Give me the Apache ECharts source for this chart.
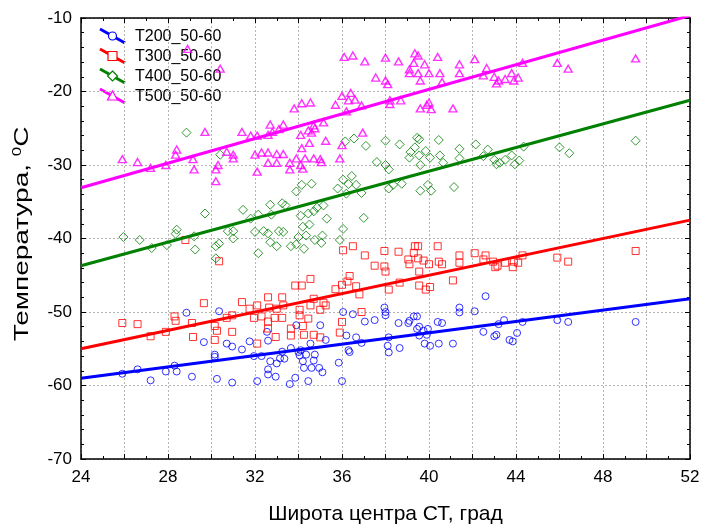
<!DOCTYPE html>
<html>
<head>
<meta charset="utf-8">
<script src="https://cdn.jsdelivr.net/npm/echarts@6/dist/echarts.min.js"></script>
<style>
  html, body { margin: 0; padding: 0; background: #ffffff; }
  #chart { width: 704px; height: 530px; }
</style>
</head>
<body>
<div id="chart"></div>
<script>
// Latitude of the cyclone centre (deg) vs. temperature (°C) at four levels
const seriesNames = ['T200_50-60', 'T300_50-60', 'T400_50-60', 'T500_50-60'];

const xTicks = [24, 28, 32, 36, 40, 44, 48, 52];
const yTicks = [-70, -60, -50, -40, -30, -20, -10];

const t200 = [
  [25.9,-58.4],[26.6,-57.8],[27.2,-59.3],[27.9,-58.1],[28.3,-57.3],[28.4,-58.1],[28.85,-50.1],[29.1,-58.8],
  [29.65,-54.1],[30.15,-55.8],[30.15,-56.1],[30.25,-59.1],[30.35,-49.9],[30.7,-54.3],[30.95,-59.6],[30.95,-54.7],
  [31.4,-55.1],[31.75,-54.0],[31.95,-56.0],[32.1,-59.4],[32.3,-56.0],[32.55,-52.7],[32.6,-53.9],[32.6,-57.8],
  [32.6,-58.5],[32.7,-56.7],[32.95,-58.8],[33.0,-57.0],[33.15,-56.3],[33.25,-55.4],[33.35,-56.35],[33.6,-59.8],
  [33.65,-54.9],[33.85,-58.95],[33.9,-51.8],[34.0,-55.45],[34.05,-55.9],[34.1,-55.2],[34.2,-56.7],[34.25,-57.6],
  [34.35,-55.8],[34.45,-59.4],[34.55,-54.3],[34.6,-57.6],[34.7,-56.6],[34.75,-55.8],[34.95,-57.6],[35.0,-51.8],
  [35.1,-58.2],[35.25,-53.8],[35.85,-56.9],[36.0,-59.4],[36.05,-50.0],[36.2,-53.2],[36.3,-55.2],[36.35,-55.45],
  [36.5,-50.3],[36.65,-53.45],[36.9,-54.2],[37.05,-51.3],[37.5,-51.1],[37.95,-49.4],[38.0,-50.0],[38.0,-50.45],
  [38.15,-53.45],[38.1,-54.6],[38.15,-55.5],[38.65,-54.9],[38.6,-51.5],[39.05,-51.5],[39.1,-51.2],[39.3,-50.6],
  [39.45,-50.6],[39.45,-52.3],[39.55,-52.0],[39.55,-53.2],[39.75,-52.55],[39.9,-53.1],[39.95,-52.3],[39.8,-54.3],
  [40.05,-54.6],[40.4,-51.35],[40.6,-51.5],[40.45,-54.3],[41.1,-54.3],[41.4,-49.4],[41.4,-50.05],[42.1,-49.9],
  [42.6,-47.85],[42.5,-52.7],[43.0,-53.3],[43.1,-53.1],[43.2,-51.65],[43.45,-51.1],[43.7,-53.8],[43.85,-54.0],
  [44.05,-52.85],[44.3,-51.35],[45.9,-51.1],[46.4,-51.35],[49.5,-51.35]
];

const t300 = [
  [25.9,-51.5],[26.6,-51.65],[27.2,-53.3],[27.9,-52.7],[28.3,-50.6],[28.35,-51.2],[28.8,-40.2],[30.35,-43.1],
  [29.1,-51.5],[29.15,-53.4],[29.65,-48.8],[30.15,-51.9],[30.15,-53.8],[30.25,-52.55],[30.7,-50.8],[30.95,-50.45],
  [30.95,-52.7],[31.4,-48.65],[31.75,-49.55],[31.95,-50.8],[32.1,-49.1],[32.1,-54.3],[32.3,-50.6],[32.6,-51.3],
  [32.6,-48.0],[32.65,-49.4],[32.6,-52.25],[32.9,-50.8],[32.95,-53.4],[33.0,-49.55],[33.25,-48.0],[33.25,-50.8],
  [33.3,-49.1],[33.65,-52.25],[33.65,-53.2],[33.85,-46.4],[34.15,-46.4],[34.05,-49.7],[34.05,-50.45],[34.2,-51.9],
  [34.25,-53.1],[34.45,-50.9],[34.55,-45.5],[34.55,-49.1],[34.7,-48.2],[34.7,-53.1],[35.0,-49.7],[35.0,-53.45],
  [35.15,-48.75],[35.25,-49.1],[35.7,-46.9],[35.9,-52.8],[36.0,-46.3],[36.0,-51.35],[36.05,-41.6],[36.35,-45.1],
  [36.25,-45.85],[36.5,-41.05],[36.65,-46.5],[36.8,-47.6],[36.9,-50.0],[37.05,-42.3],[37.5,-43.7],[37.95,-41.7],
  [37.95,-43.8],[38.0,-44.5],[38.15,-46.95],[38.6,-41.8],[38.65,-46.0],[39.05,-42.85],[39.1,-43.5],[39.3,-41.95],
  [39.35,-41.05],[39.5,-41.05],[39.5,-42.7],[39.55,-44.5],[39.55,-46.4],[39.75,-43.0],[39.85,-46.95],[40.0,-43.5],
  [40.05,-46.6],[40.4,-41.05],[40.45,-43.15],[40.6,-43.5],[41.1,-45.7],[41.4,-42.3],[41.4,-43.3],[42.1,-42.0],
  [42.5,-42.85],[42.6,-42.3],[42.95,-43.15],[43.05,-43.9],[43.15,-43.7],[43.5,-43.3],[43.85,-43.9],[43.9,-43.15],
  [44.1,-43.3],[44.3,-42.3],[45.9,-42.6],[46.4,-43.15],[49.5,-41.7]
];

const t400 = [
  [25.95,-39.8],[26.7,-40.2],[27.25,-41.3],[27.95,-40.9],[28.4,-38.8],[28.35,-39.35],[28.85,-25.6],[29.2,-39.7],
  [29.25,-41.5],[29.7,-36.6],[30.2,-41.05],[30.35,-40.7],[30.2,-42.7],[30.4,-28.6],[30.75,-39.0],[31.0,-39.0],
  [31.0,-40.0],[31.45,-36.1],[31.8,-37.3],[32.0,-39.1],[32.15,-42.0],[32.15,-36.75],[32.4,-39.0],[32.6,-39.3],
  [32.7,-40.5],[32.7,-35.4],[32.75,-36.75],[33.0,-41.05],[33.1,-39.0],[33.25,-35.2],[33.3,-39.1],[33.4,-35.5],
  [33.65,-41.05],[33.9,-33.6],[33.9,-40.8],[34.0,-39.8],[34.1,-36.9],[34.15,-32.7],[34.2,-38.4],[34.25,-41.4],
  [34.35,-39.6],[34.45,-36.6],[34.5,-38.1],[34.6,-32.55],[34.7,-36.3],[34.75,-40.2],[34.85,-35.8],[35.05,-40.6],
  [35.1,-39.6],[35.15,-35.5],[35.3,-37.3],[35.8,-33.2],[35.9,-40.2],[36.05,-38.7],[36.05,-32.0],[36.15,-26.8],
  [36.2,-33.9],[36.3,-32.6],[36.45,-31.5],[36.55,-26.4],[36.65,-32.7],[36.9,-33.8],[37.0,-37.2],[37.1,-27.4],
  [37.6,-29.6],[38.0,-26.7],[38.0,-30.0],[38.15,-30.6],[38.15,-33.2],[38.35,-32.7],[38.65,-27.2],[38.75,-32.55],
  [39.1,-29.0],[39.15,-28.25],[39.35,-27.6],[39.45,-26.3],[39.55,-26.5],[39.55,-28.7],[39.6,-30.0],[39.6,-33.5],
  [39.85,-28.1],[39.95,-32.7],[40.05,-29.0],[40.1,-33.5],[40.45,-26.6],[40.5,-28.7],[40.65,-29.7],[41.15,-33.0],
  [41.4,-27.8],[41.4,-29.1],[42.15,-27.2],[42.5,-28.8],[42.7,-27.9],[43.0,-29.3],[43.1,-29.9],[43.25,-29.7],
  [43.5,-29.3],[43.8,-28.7],[43.95,-29.9],[44.15,-29.4],[44.35,-27.5],[46.0,-27.6],[46.45,-28.4],[49.5,-26.7]
];

const t500 = [
  [25.9,-29.2],[26.6,-29.6],[27.2,-30.4],[27.9,-30.0],[28.4,-27.9],[28.35,-28.6],[29.15,-29.2],[29.2,-30.6],
  [29.7,-25.5],[28.9,-14.2],[30.4,-16.9],[30.2,-30.6],[30.2,-32.2],[30.3,-30.0],[30.7,-28.2],[31.0,-28.6],
  [31.0,-29.1],[31.4,-25.5],[31.8,-26.0],[32.1,-26.0],[32.0,-28.6],[32.1,-30.9],[32.3,-28.3],[32.6,-28.3],
  [32.6,-29.7],[32.7,-24.5],[32.6,-25.9],[32.8,-25.5],[33.0,-29.7],[33.0,-28.5],[33.1,-25.1],[33.3,-24.5],
  [33.3,-28.5],[33.6,-29.7],[33.6,-30.6],[33.8,-22.3],[34.15,-21.6],[34.55,-21.5],[34.1,-25.9],[33.9,-29.1],
  [34.1,-30.0],[34.2,-30.5],[34.3,-29.1],[34.15,-27.7],[34.5,-27.0],[34.45,-25.3],[34.7,-24.6],[34.6,-25.6],
  [34.75,-25.0],[34.7,-29.1],[35.0,-29.2],[35.05,-29.6],[35.15,-24.2],[35.25,-26.7],[35.7,-21.8],[36.0,-20.6],
  [36.1,-15.3],[36.5,-15.1],[36.4,-20.2],[36.2,-22.7],[36.3,-21.2],[36.6,-21.1],[36.9,-21.9],[37.05,-15.9],
  [36.95,-25.6],[36.0,-27.3],[35.9,-29.1],[37.55,-18.1],[38.0,-15.4],[38.6,-15.9],[39.35,-14.8],[39.5,-15.1],
  [39.3,-16.1],[39.8,-16.3],[40.4,-15.3],[39.1,-17.0],[39.1,-17.5],[39.5,-17.5],[40.0,-17.5],[39.6,-18.5],
  [40.5,-17.5],[40.6,-18.7],[38.0,-18.5],[38.1,-19.0],[38.2,-21.2],[38.2,-21.7],[38.7,-21.2],[39.6,-22.3],
  [39.9,-21.8],[40.0,-21.5],[40.1,-22.4],[41.1,-22.3],[41.4,-16.3],[41.4,-17.5],[42.1,-15.6],[42.65,-16.8],
  [42.5,-17.8],[43.0,-18.0],[43.1,-18.9],[43.2,-18.5],[43.5,-18.3],[43.8,-17.5],[43.9,-18.5],[44.1,-18.1],
  [44.3,-16.1],[45.9,-16.1],[46.4,-16.9],[49.5,-15.5]
];

// Linear fits: temperature at the two ends of the latitude range
const fitT200 = [[24, -59.0], [52, -48.2]];
const fitT300 = [[24, -55.0], [52, -37.5]];
const fitT400 = [[24, -43.7], [52, -21.2]];
const fitT500 = [[24, -33.1], [52, -9.66]];

const colors = ['#0000ff', '#ff0000', '#008000', '#ff00ff'];
const symbols = ['circle', 'rect', 'diamond', 'triangle'];
const symbolSizes = [7, 7, 9, [8, 7]];
const borderWidths = [1, 1, 1, 1.4];
const points = [t200, t300, t400, t500];
const fits = [fitT200, fitT300, fitT400, fitT500];

const chart = echarts.init(document.getElementById('chart'), null, { renderer: 'canvas' });

const FONT = 'Liberation Sans, Arial, sans-serif';
const gridStyle = { show: true, lineStyle: { color: '#b4b4b4', width: 1, type: [2, 2] } };
const frameLine = { show: true, lineStyle: { color: '#000000', width: 1.5 } };

function makeX(position, labels) {
  return {
    type: 'value', position: position, min: xTicks[0], max: xTicks[xTicks.length - 1], interval: 2,
    axisLine: frameLine,
    axisTick: { show: true, inside: true, length: 5, lineStyle: { color: '#000', width: 1 } },
    minorTick: { show: true, splitNumber: 2, length: 3, lineStyle: { color: '#000', width: 1 } },
    splitLine: position === 'bottom' ? gridStyle : { show: false },
    axisLabel: labels ? {
      show: true, color: '#000', fontFamily: FONT, fontSize: 17, margin: 10,
      formatter: v => (xTicks.indexOf(v) >= 0 ? String(v) : '')
    } : { show: false },
    name: labels ? 'Широта центра СТ, град' : '',
    nameLocation: 'middle', nameGap: 45,
    nameTextStyle: { color: '#000', fontFamily: FONT, fontSize: 21 }
  };
}

function makeY(position, labels) {
  return {
    type: 'value', position: position, min: yTicks[0], max: yTicks[yTicks.length - 1], interval: 10,
    axisLine: frameLine,
    axisTick: { show: true, inside: true, length: 5, lineStyle: { color: '#000', width: 1 } },
    minorTick: { show: true, splitNumber: 5, length: 3, lineStyle: { color: '#000', width: 1 } },
    splitLine: position === 'left' ? gridStyle : { show: false },
    axisLabel: labels ? {
      show: true, color: '#000', fontFamily: FONT, fontSize: 17, margin: 9,
      formatter: v => (yTicks.indexOf(v) >= 0 ? String(v) : '')
    } : { show: false }
  };
}

const series = [];
points.forEach((pts, i) => {
  series.push({
    name: seriesNames[i], type: 'scatter', data: pts,
    symbol: symbols[i], symbolSize: symbolSizes[i],
    itemStyle: { color: 'rgba(0,0,0,0)', borderColor: colors[i], borderWidth: borderWidths[i] },
    emphasis: { disabled: true }, z: 2
  });
  series.push({
    name: seriesNames[i] + ' fit', type: 'line', data: fits[i],
    showSymbol: false, clip: true,
    lineStyle: { color: colors[i], width: 3 },
    emphasis: { disabled: true }, z: 3
  });
});

// Key in the upper-left corner: slanted line sample with the series marker
const graphics = [];
seriesNames.forEach((name, i) => {
  const y0 = 36 + i * 20;
  const group = { type: 'group', children: [] };
  group.children.push({
    type: 'line', shape: { x1: 100, y1: y0 - 7, x2: 125, y2: y0 + 7 },
    style: { stroke: colors[i], lineWidth: 3 }
  });
  const cx = 112.5, cy = y0;
  let marker;
  if (i === 0) marker = { type: 'circle', shape: { cx: cx, cy: cy, r: 4 } };
  else if (i === 1) marker = { type: 'rect', shape: { x: cx - 4.5, y: cy - 4.5, width: 9, height: 9 } };
  else if (i === 2) marker = { type: 'polygon', shape: { points: [[cx, cy - 5], [cx + 5, cy], [cx, cy + 5], [cx - 5, cy]] } };
  else marker = { type: 'polygon', shape: { points: [[cx, cy - 5], [cx + 5, cy + 4], [cx - 5, cy + 4]] } };
  marker.style = { fill: '#ffffff', stroke: colors[i], lineWidth: 1.2 };
  group.children.push(marker);
  group.children.push({
    type: 'text', x: 135, y: y0 + 1,
    style: { text: name, fill: '#000', font: '16px ' + FONT, verticalAlign: 'middle', align: 'left' }
  });
  graphics.push(group);
});

// Vertical axis title, set in a tall narrow face
graphics.push({
  type: 'text', x: 22, y: 234, rotation: Math.PI / 2, scaleX: 1.4, scaleY: 1,
  style: {
    text: 'Температура, {sup|0}C', fill: '#000', fontFamily: FONT, fontSize: 20,
    align: 'center', verticalAlign: 'middle',
    rich: { sup: { fontSize: 12, fontFamily: FONT, fill: '#000', verticalAlign: 'top', padding: [0, 0, 9, 0] } }
  }
});

chart.setOption({
  backgroundColor: '#ffffff',
  animation: false,
  grid: { left: 81, top: 18, right: 14, bottom: 65, containLabel: false },
  xAxis: [makeX('bottom', true), makeX('top', false)],
  yAxis: [makeY('left', true), makeY('right', false)],
  series: series,
  graphic: graphics
});
</script>
</body>
</html>
